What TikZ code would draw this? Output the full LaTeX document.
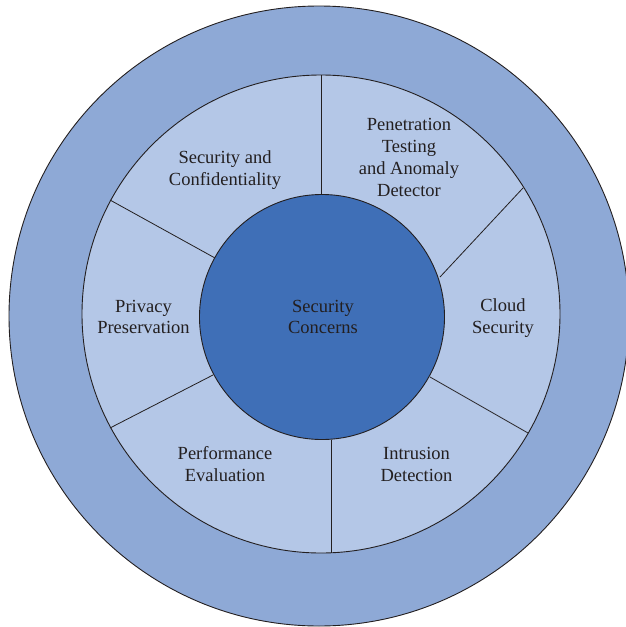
\documentclass[tikz,border=0pt]{standalone}
\usepackage{fontspec}
\setmainfont{Liberation Serif}
\definecolor{outerblue}{HTML}{8EA9D6}
\definecolor{midblue}{HTML}{B4C7E7}
\definecolor{coreblue}{HTML}{3F6FB7}
\definecolor{inkdark}{HTML}{231F20}
\begin{document}
\begin{tikzpicture}[x=1pt,y=-1pt,
  ring/.style={draw=inkdark,line width=0.9pt},
  divider/.style={draw=inkdark,line width=0.8pt},
  label/.style={align=center,text=inkdark,font=\fontsize{18.5}{21.9}\selectfont,inner sep=0pt}]
  \useasboundingbox (0,0) rectangle (626,627);
  \clip (0,0) rectangle (626,627);
  % rings
  \path[ring,fill=outerblue] (319,316) circle[radius=310];
  \path[ring,fill=midblue] (321,314) circle[radius=239];
  % sector dividers
  \coordinate (d1a) at (321,195); \coordinate (d1b) at (321,75);
  \coordinate (d2a) at (440,277); \coordinate (d2b) at (523,188);
  \coordinate (d3a) at (430,377); \coordinate (d3b) at (528,433);
  \coordinate (d4a) at (331,440); \coordinate (d4b) at (331,553);
  \coordinate (d5a) at (213,375); \coordinate (d5b) at (110,428);
  \coordinate (d6a) at (215,258); \coordinate (d6b) at (110,200);
  \foreach \i in {1,...,6} \draw[divider] (d\i a) -- (d\i b);
  % core
  \path[ring,fill=coreblue] (322,317) circle[radius=122.5];
  % labels
  \node[label] (core) at (323,317) {Security\\Concerns};
  \node[label] (conf) at (225,170) {Security and\\Confidentiality};
  \node[label] (pen) at (409,157.5) {Penetration\\Testing\\and Anomaly\\Detector};
  \node[label] (priv) at (143.5,317) {Privacy\\Preservation};
  \node[label] (cloud) at (503,318.5) {Cloud\\Security};
  \node[label] (perf) at (225,464.5) {Performance\\Evaluation};
  \node[label] (intr) at (416.5,464.5) {Intrusion\\Detection};
\end{tikzpicture}
\end{document}
